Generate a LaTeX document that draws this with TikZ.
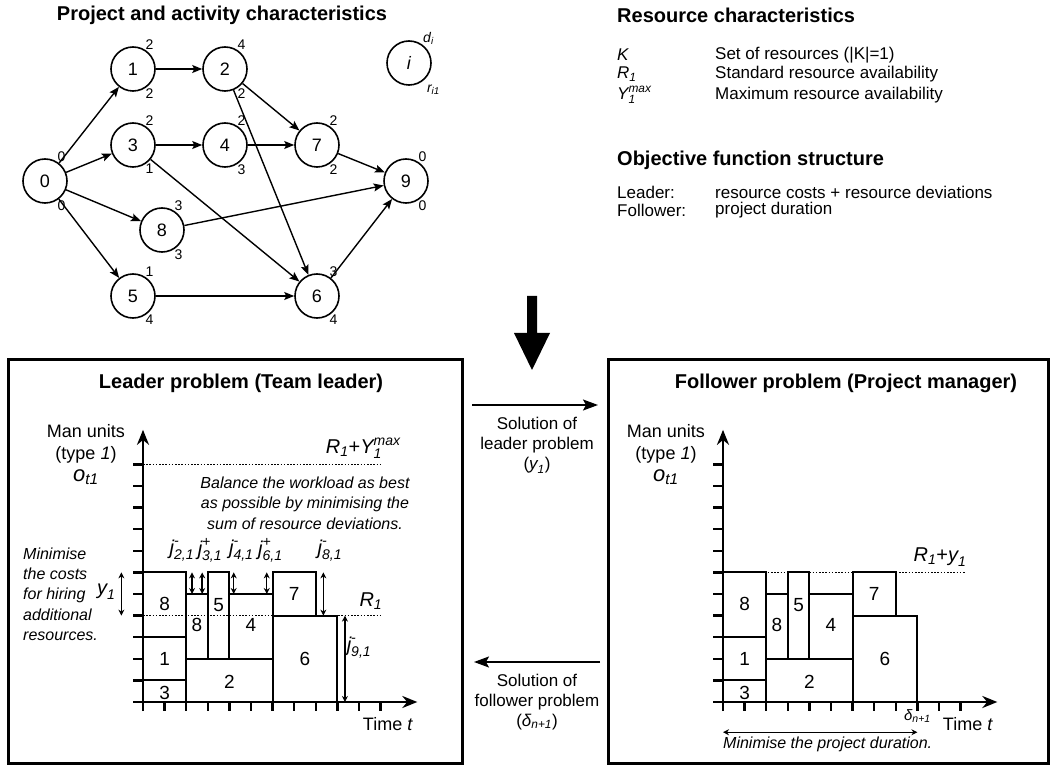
\documentclass[tikz,border=0pt]{standalone}
\usepackage{amsmath}
\usepackage{fontspec}
\setmainfont{Liberation Sans}
\usetikzlibrary{arrows.meta,positioning}

\newcommand{\fsz}[2]{\fontsize{#1}{#2}\selectfont}
\newcommand{\isub}[2]{$\textit{#1}_{\textit{#2}}$}
\newcommand{\isx}[3]{$\textit{#1}^{\textit{#2}}_{\textit{#3}}$}

\tikzset{
  act/.style={circle,draw,line width=1.6pt,minimum size=44pt,inner sep=0pt,
    font=\fsz{18}{20},label distance=0pt},
  lbl/.style={inner sep=0pt,font=\fsz{14}{16}},
  dr/.style 2 args={label={[lbl]57:#1},label={[lbl]-57:#2}},
  arc/.style={line width=1.4pt,-{Stealth[length=10pt,width=8pt,inset=2pt]}},
  hdr/.style={inner sep=0pt,font=\fsz{20}{22}\bfseries},
  txt/.style={inner sep=0pt,font=\fsz{17}{20}},
  itxt/.style={inner sep=0pt,font=\fsz{16}{20.3}\itshape},
  mlab/.style={inner sep=0pt,font=\fsz{20}{22}},
  num/.style={inner sep=0pt,font=\fsz{19}{20}},
  panel/.style={draw,line width=3pt},
  blk/.style={draw,line width=2pt},
  axis/.style={line width=2.5pt},
  dotline/.style={line width=1.6pt,dash pattern=on 1.6pt off 1.6pt},
  dbl/.style={line width=1.4pt,{Stealth[length=6pt,width=6pt]}-{Stealth[length=6pt,width=6pt]}},
  flow/.style={line width=1.6pt,-{Stealth[length=15pt,width=11pt,inset=3pt]}}
}

% one resource profile, #1 = prefix of the node names
\newcommand{\schedule}[1]{%
  \foreach \xa/\ya/\xb/\yb/\lx/\ly/\lab [count=\k] in
    {0/0/2/1/1/0.42/3, 0/1/2/3/1/2/1, 0/3/2/6/1/4.55/8, 2/0/6/2/4/0.95/2,
     2/2/3/5/2.5/3.55/8, 3/2/4/6/3.5/4.5/5, 4/2/6/5/5/3.55/4,
     6/0/9/4/7.5/2/6, 6/4/8/6/7/5/7}
    {\draw[blk] (\xa,\ya) rectangle (\xb,\yb);
     \node[num] (#1\k) at (\lx,\ly) {\lab};}
  \foreach \t in {1,...,11}
    {\draw[axis] (\t,0) -- (\t,-0.42);
     \draw[axis] (0,\t) -- (-0.45,\t);}
  \draw[axis,-{Stealth[length=15pt,width=12pt]}] (0,-0.42) -- (0,12.6);
  \draw[axis,-{Stealth[length=15pt,width=12pt]}] (-0.45,0) -- (12.7,0);
}

\begin{document}
\begin{tikzpicture}[x=1pt,y=-1pt]
  \useasboundingbox (0,0) rectangle (1050,767);

  % project network
  \node[hdr] (projhd) at (222,15) {Project and activity characteristics};
  \node[act,dr={0}{0}] (n0) at (45,181) {0};
  \node[act,dr={2}{2}] (n1) at (133,69) {1};
  \node[act,dr={4}{2}] (n2) at (225,69) {2};
  \node[act,dr={2}{1}] (n3) at (133,145) {3};
  \node[act,dr={2}{3}] (n4) at (225,145) {4};
  \node[act,dr={1}{4}] (n5) at (133,296) {5};
  \node[act,dr={3}{4}] (n6) at (317,296) {6};
  \node[act,dr={2}{2}] (n7) at (317,145) {7};
  \node[act,dr={3}{3}] (n8) at (162,230) {8};
  \node[act,dr={0}{0}] (n9) at (406,181) {9};
  \node[act,label={[lbl]52:\isub{d}{i}},
    label={[lbl,label distance=5pt]-50:\isub{r}{i1}}] (leg) at (409,63) {\textit{i}};
  \foreach \a/\b in {n0/n1,n0/n3,n0/n8,n0/n5,n1/n2,n3/n4,n3/n6,n2/n7,
                     n2/n6,n4/n7,n7/n9,n8/n9,n5/n6,n6/n9}
    \draw[arc] (\a) -- (\b);

  % resource and objective
  \node[hdr,anchor=west] (reshd) at (617,15) {Resource characteristics};
  \node[txt,anchor=west] (rk) at (617,55) {\textit{K}};
  \node[txt,anchor=west] (rkd) at (715,55) {Set of resources (|K|=1)};
  \node[txt,anchor=west] (rr) at (617,74) {\isub{R}{1}};
  \node[txt,anchor=west] (rrd) at (715,74) {Standard resource availability};
  \node[txt,anchor=west] (ry) at (617,95) {\isx{Y}{max}{1}};
  \node[txt,anchor=west] (ryd) at (715,95) {Maximum resource availability};
  \node[hdr,anchor=west] (objhd) at (617,160) {Objective function structure};
  \node[txt,anchor=west] (ol) at (617,192) {Leader:};
  \node[txt,anchor=west] (old) at (715,192) {resource costs + resource deviations};
  \node[txt,anchor=west] (of) at (617,210) {Follower:};
  \node[txt,anchor=west] (ofd) at (715,210) {project duration};

  \fill (527,296) -- (537,296) -- (537,333) -- (550,333) -- (532,370)
    -- (514,333) -- (527,333) -- cycle;

  % the two problems
  \draw[panel] (8,360) rectangle (462,763);
  \draw[panel] (608,360) rectangle (1048,763);
  \node[hdr] (ldtitle) at (241,383) {Leader problem (Team leader)};
  \node[hdr] (fwtitle) at (846,383) {Follower problem (Project manager)};

  \coordinate (s1) at (472,405);
  \coordinate (e1) at (598,405);
  \draw[flow] (s1) -- (e1);
  \node[txt,align=center] (sol1) at (537,445) {Solution of\\leader problem\\(\isub{y}{1})};
  \coordinate (s2) at (600,662);
  \coordinate (e2) at (474,662);
  \draw[flow] (s2) -- (e2);
  \node[txt,align=center] (sol2) at (537,702) {Solution of\\follower problem\\(\isub{δ}{n+1})};

  % leader
  \node[txt,align=center,font=\fsz{18}{22}] (lmu) at (86,444) {Man units\\(type \textit{1})};
  \node[mlab,font=\fsz{22}{24}] (lo) at (86,477) {\isub{o}{t1}};
  \node[itxt,align=left,anchor=west] (lmin) at (23,594)
    {Minimise\\the costs\\for hiring\\additional\\resources.};
  \node[itxt,align=center] (bal) at (305,503)
    {Balance the workload as best\\as possible by minimising the\\sum of resource deviations.};
  \begin{scope}[shift={(143,702)},x=21.6pt,y=21.6pt]
    \schedule{L}
    \draw[dotline] (0,4) -- (11.1,4);
    \draw[dotline] (0,11) -- (11.05,11);
    \node[mlab] (lr1) at (10.55,4.65) {\isub{R}{1}};
    \node[mlab] (lrmax) at (10.2,11.75) {\isub{R}{1}+\isx{Y}{max}{1}};
    \draw[dbl] (2.27,5) -- (2.27,6);
    \draw[dbl] (2.74,5) -- (2.74,6);
    \draw[dbl] (4.2,5) -- (4.2,6);
    \draw[dbl] (5.73,5) -- (5.73,6);
    \draw[dbl] (8.35,4) -- (8.35,6);
    \draw[dbl] (9.35,0) -- (9.35,4);
    \draw[dbl] (-1.0,4) -- (-1.0,6);
    \node[mlab] (j2) at (1.8,7) {\isx{j}{-}{2,1}};
    \node[mlab] (j3) at (3.1,7) {\isx{j}{+}{3,1}};
    \node[mlab] (j4) at (4.55,7) {\isx{j}{-}{4,1}};
    \node[mlab] (j6) at (5.9,7) {\isx{j}{+}{6,1}};
    \node[mlab] (j8) at (8.65,7) {\isx{j}{-}{8,1}};
    \node[mlab] (j9) at (10.0,2.5) {\isx{j}{-}{9,1}};
    \node[mlab] (ly1) at (-1.7,5.1) {\isub{y}{1}};
    \node[txt,font=\fsz{18}{20}] (ltime) at (11.34,-1.02) {Time \textit{t}};
  \end{scope}

  % follower
  \node[txt,align=center,font=\fsz{18}{22}] (fmu) at (666,444) {Man units\\(type \textit{1})};
  \node[mlab,font=\fsz{22}{24}] (fo) at (666,477) {\isub{o}{t1}};
  \begin{scope}[shift={(723,702)},x=21.6pt,y=21.6pt]
    \schedule{F}
    \draw[dotline] (0,6) -- (11.2,6);
    \node[mlab] (fry) at (10.05,6.7) {\isub{R}{1}+\isub{y}{1}};
    \node[lbl,font=\fsz{15}{16}] (fdl) at (9.0,-0.65) {\isub{δ}{n+1}};
    \node[txt,font=\fsz{18}{20}] (ftime) at (11.34,-1.02) {Time \textit{t}};
    \draw[dbl] (0,-1.4) -- (9,-1.4);
    \node[itxt,anchor=west] (fmin) at (0,-1.95) {Minimise the project duration.};
  \end{scope}
\end{tikzpicture}
\end{document}
